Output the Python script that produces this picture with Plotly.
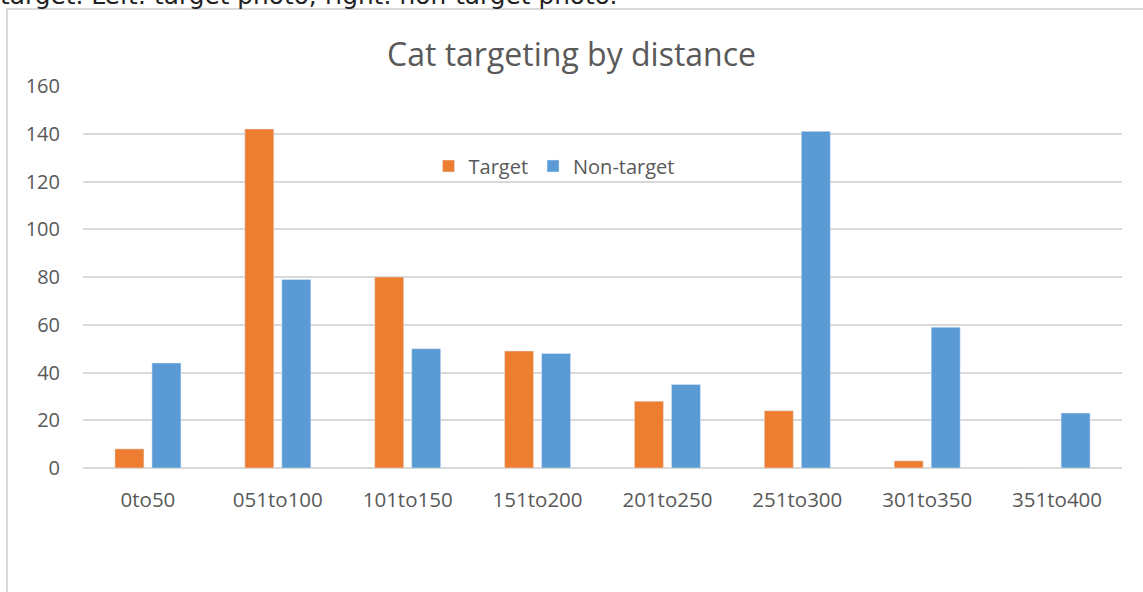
import plotly.graph_objects as go

categories = ["0to50", "051to100", "101to150", "151to200", "201to250", "251to300", "301to350", "351to400"]
target = [8, 142, 80, 49, 28, 24, 3, 0]
non_target = [44, 79, 50, 48, 35, 141, 59, 23]
y_ticks = [0, 20, 40, 60, 80, 100, 120, 140, 160]

FONT = "Open Sans"
GRAY = "#595959"

fig = go.Figure()
fig.add_trace(go.Bar(name="Target", x=categories, y=target, marker=dict(color="#ED7D31")))
fig.add_trace(go.Bar(name="Non-target", x=categories, y=non_target, marker=dict(color="#5B9BD5")))

L, R, T, B = 83, 21, 86, 124
W, H = 1143, 592
pw, ph = W - L - R, H - T - B

def px(x):
    return (x - L) / pw

def py(y):
    return (H - B - y) / ph

fig.update_layout(
    width=W, height=H,
    margin=dict(l=L, r=R, t=T, b=B),
    paper_bgcolor="white", plot_bgcolor="white",
    barmode="group", bargap=0.43, bargroupgap=0.216,
    font=dict(family=FONT, color=GRAY, size=20),
    showlegend=True,
    legend=dict(orientation="h", x=px(554), y=py(166), xanchor="center", yanchor="middle",
                font=dict(size=20, color=GRAY), bgcolor="rgba(0,0,0,0)",
                itemwidth=30, traceorder="normal"),
    xaxis=dict(showgrid=False, showline=False, ticks="", tickfont=dict(size=20.5, color=GRAY),
               ticklabelstandoff=17),
    yaxis=dict(range=[0, 160], tickvals=y_ticks, showgrid=True, gridcolor="#d9d9d9", gridwidth=1.5,
               zeroline=True, zerolinecolor="#d9d9d9", zerolinewidth=1.5,
               showline=False, ticks="", tickfont=dict(size=20, color=GRAY), ticklabelstandoff=22),
    annotations=[
        dict(text="Cat targeting by distance", xref="paper", yref="paper", x=px(571), y=py(53),
             xanchor="center", yanchor="middle", showarrow=False,
             font=dict(family=FONT, size=32, color=GRAY)),
        dict(text="target. Left: target photo; right: non-target photo.", xref="paper", yref="paper",
             x=px(-2), y=py(12), xanchor="left", yanchor="bottom", showarrow=False,
             font=dict(family="DejaVu Sans", size=24.8, color="#222222")),
    ],
    shapes=[
        dict(type="rect", xref="paper", yref="paper", x0=px(7), x1=px(1160), y0=py(9), y1=py(610),
             line=dict(color="#d9d9d9", width=2), fillcolor="rgba(0,0,0,0)", layer="below"),
    ],
)

fig.write_html("out.html", config={"displayModeBar": False},
               post_script="document.body.style.margin='0';document.body.style.overflow='hidden';")
